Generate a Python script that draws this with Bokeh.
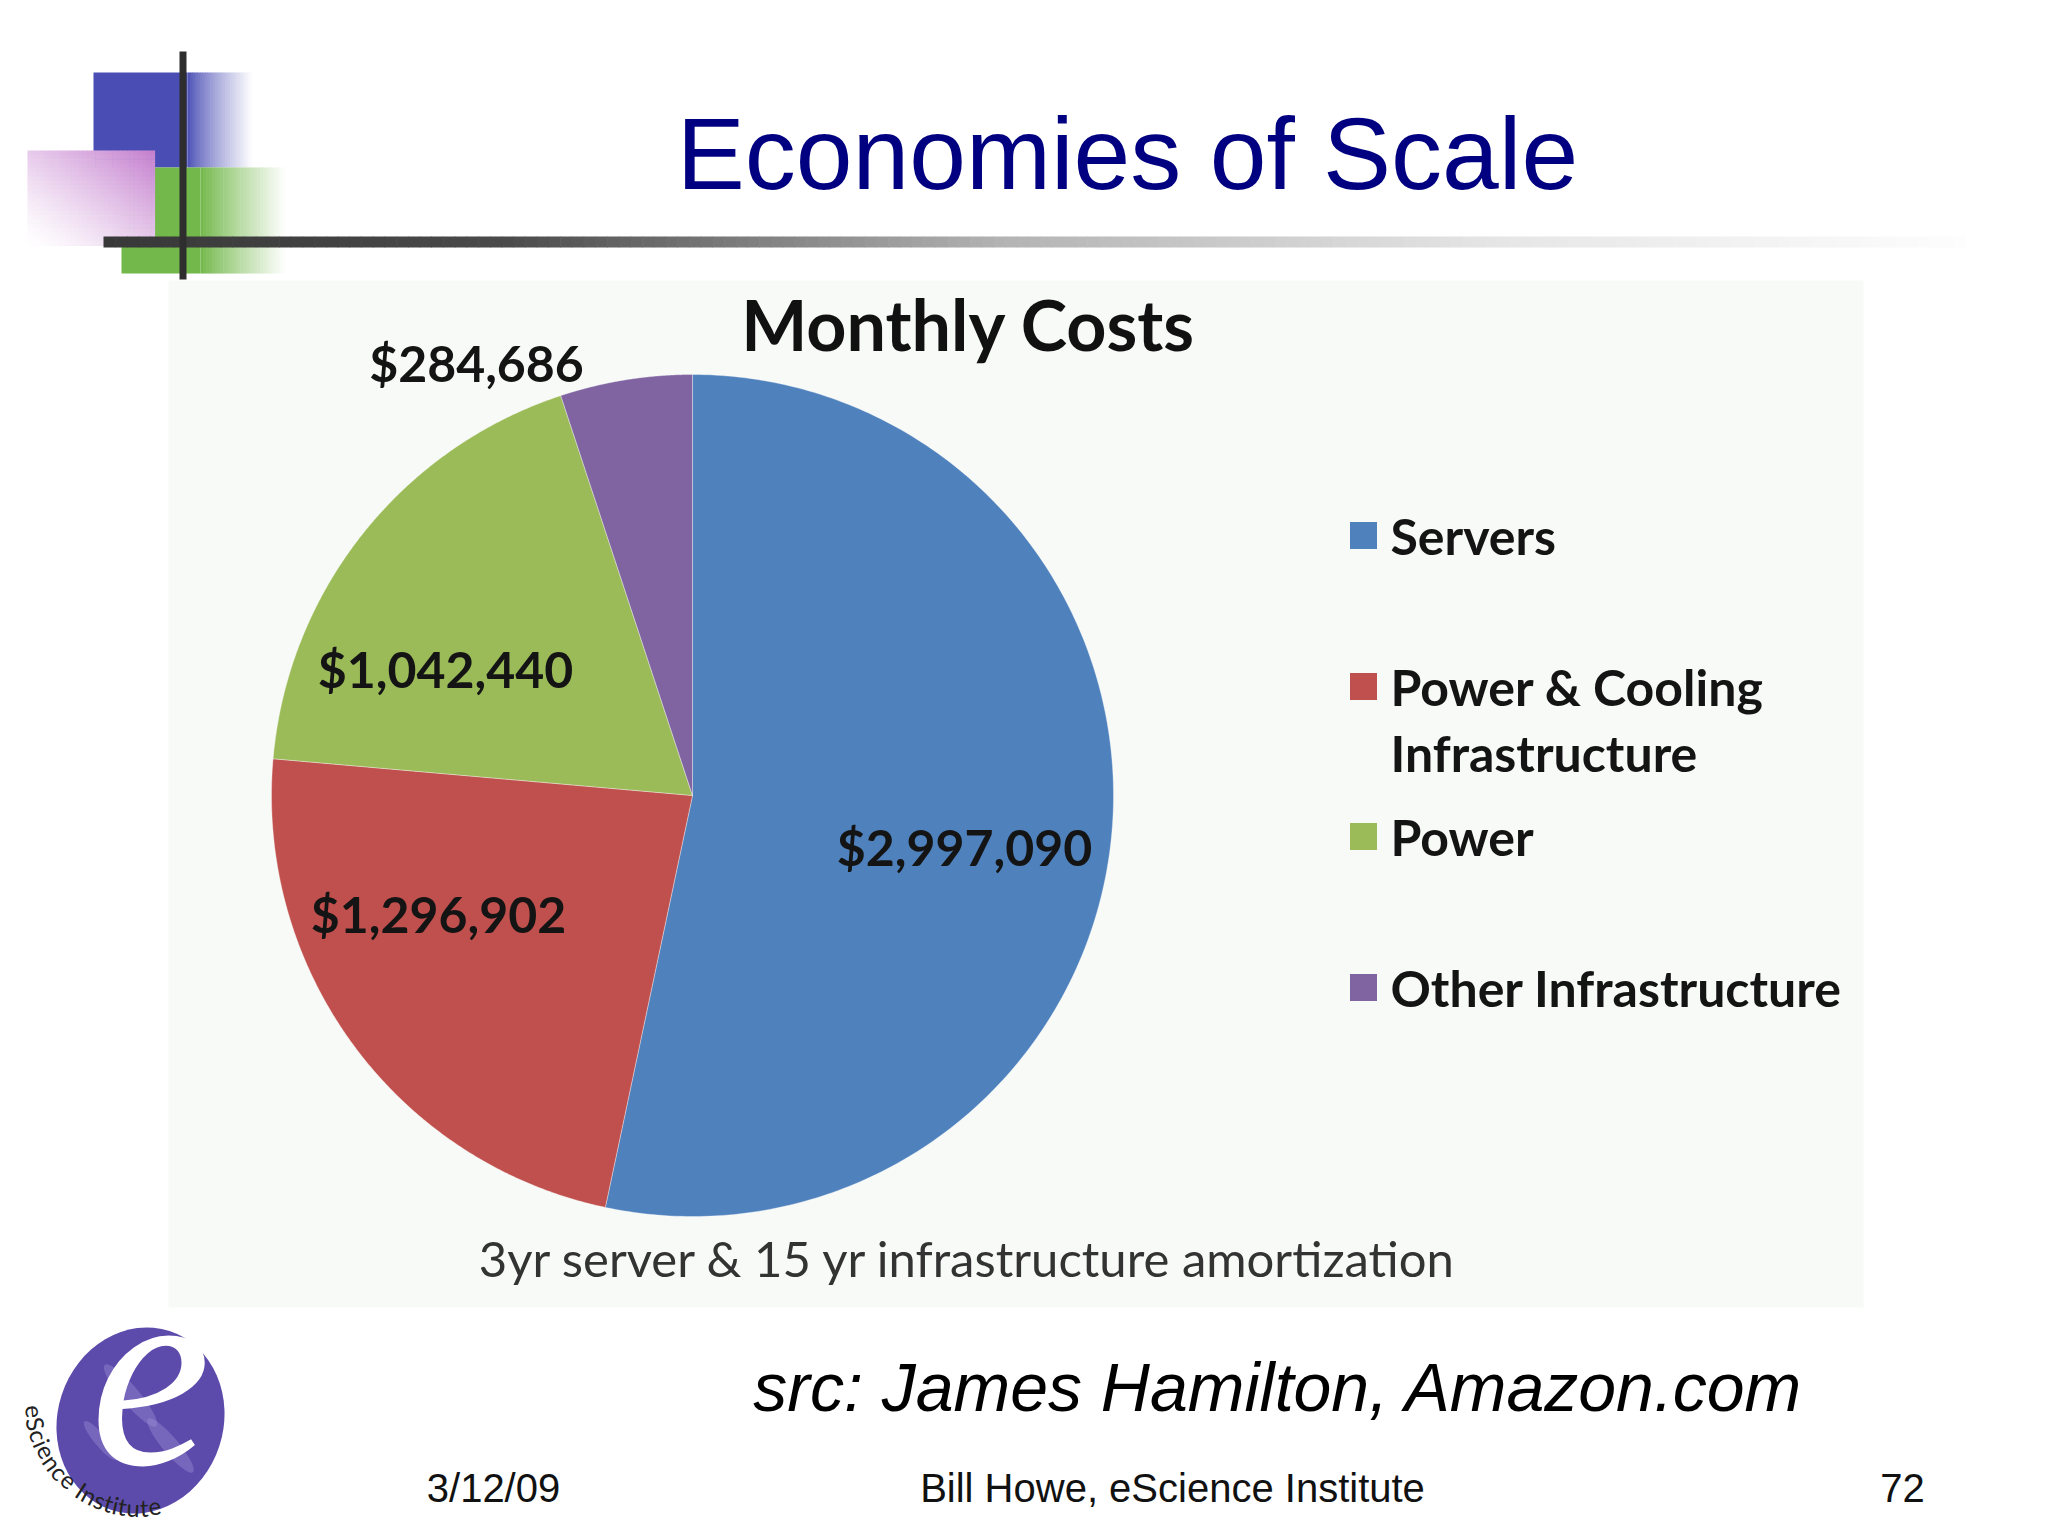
import numpy as np
from bokeh.plotting import figure
from bokeh.models import Range1d
from bokeh.embed import file_html
from bokeh.resources import INLINE
from bokeh.core.properties import value

# ---------------- data ----------------
slide_title = "Economies of Scale"
chart_title = "Monthly Costs"
categories = ["Servers", "Power & Cooling Infrastructure", "Power", "Other Infrastructure"]
legend_lines = [["Servers"], ["Power & Cooling", "Infrastructure"], ["Power"], ["Other Infrastructure"]]
monthly_costs = [2997090, 1296902, 1042440, 284686]
slice_colors = ["#4f81bd", "#c0504d", "#9bbb59", "#8064a2"]
footnote = "3yr server & 15 yr infrastructure amortization"
source_note = "src: James Hamilton, Amazon.com"
footer_date = "3/12/09"
footer_author = "Bill Howe, eScience Institute"
footer_page = "72"
logo_text = "eScience Institute"

# ---------------- layout ----------------
W, H = 2032, 1536
p = figure(width=W, height=H, x_range=Range1d(0, W), y_range=Range1d(H, 0),
           output_backend="svg", toolbar_location=None,
           x_axis_location=None, y_axis_location=None, min_border=0)
p.grid.visible = False
p.outline_line_color = None
p.background_fill_color = "white"
p.border_fill_color = "white"

BASE_SHIFT = 0.375  # empirical: rendered baseline sits this many em below the anchor


def by(baseline, size):
    return baseline - BASE_SHIFT * size


def hex2rgb(h):
    h = h.lstrip("#")
    return tuple(int(h[i:i + 2], 16) for i in (0, 2, 4))


def mix(c1, c2, t):
    a, b = hex2rgb(c1), hex2rgb(c2)
    t = min(max(t, 0.0), 1.0)
    return "#%02x%02x%02x" % tuple(int(round(a[i] + (b[i] - a[i]) * t)) for i in range(3))


def fade_strips(x0, x1, y0, y1, c, n=30, power=1.0):
    xs = np.linspace(x0, x1, n + 1)
    cols = [mix(c, "#ffffff", ((i + 0.5) / n) ** power) for i in range(n)]
    p.quad(left=xs[:-1], right=xs[1:] + 0.6, top=[y0] * n, bottom=[y1] * n,
           fill_color=cols, line_color=None)


# ---- top-left decoration ----
BLUE = "#4a4eb4"
GREEN = "#72b84a"
p.quad(left=[93], right=[187], top=[72], bottom=[167], fill_color=BLUE, line_color=None)
fade_strips(187, 252, 72, 167, BLUE, n=26, power=0.8)
p.quad(left=[121], right=[200], top=[167], bottom=[273], fill_color=GREEN, line_color=None)
fade_strips(200, 285, 167, 273, GREEN, n=30, power=0.9)

nx, ny = 30, 22
gx = np.linspace(27, 154, nx + 1)
gy = np.linspace(150, 245, ny + 1)
L, R_, T, B, C = [], [], [], [], []
for i in range(nx):
    for j in range(ny):
        u = (i + 0.5) / nx
        v = 1 - (j + 0.5) / ny
        t = (u + v) / 2
        L.append(gx[i]); R_.append(gx[i + 1] + 0.6)
        T.append(gy[j]); B.append(gy[j + 1] + 0.6)
        C.append(mix("#ffffff", "#c47fce", t ** 1.3))
p.quad(left=L, right=R_, top=T, bottom=B, fill_color=C, line_color=None)

stops_x = [103, 500, 1000, 1500, 1965]
stops_c = ["#383838", "#4a4a4a", "#b3b3b3", "#e6e6e6", "#fdfdfd"]
hx = np.linspace(103, 1965, 160)
hcols = []
for k in range(len(hx) - 1):
    xm = (hx[k] + hx[k + 1]) / 2
    for s in range(len(stops_x) - 1):
        if stops_x[s] <= xm <= stops_x[s + 1]:
            t = (xm - stops_x[s]) / (stops_x[s + 1] - stops_x[s])
            hcols.append(mix(stops_c[s], stops_c[s + 1], t))
            break
p.quad(left=hx[:-1], right=hx[1:] + 0.6, top=[236] * len(hcols), bottom=[247] * len(hcols),
       fill_color=hcols, line_color=None)
p.quad(left=[179], right=[186], top=[51], bottom=[279], fill_color="#2e2e2e", line_color=None)

# ---- slide title ----
p.text(x=[1127], y=[by(192, 102)], text=[slide_title], text_font=value("Liberation Sans"),
       text_font_size=value("102px"), text_color="#000080", text_align="center",
       text_baseline="alphabetic")

# ---- chart panel ----
p.quad(left=[168], right=[1863], top=[280], bottom=[1307], fill_color="#f8faf7", line_color=None)

p.text(x=[968], y=[by(350, 70)], text=[chart_title], text_font=value("Lato"),
       text_font_style="bold", text_font_size=value("70px"), text_color="#111111",
       text_align="center", text_baseline="alphabetic")

# pie (clockwise from 12 o'clock)
cx, cy, RAD = 692, 795, 421
total = float(sum(monthly_costs))
fr = np.cumsum([0] + monthly_costs) / total
xs_list, ys_list = [], []
for i in range(len(monthly_costs)):
    th = np.linspace(fr[i], fr[i + 1], 240) * 2 * np.pi
    xs_list.append(np.concatenate([[cx], cx + RAD * np.sin(th)]))
    ys_list.append(np.concatenate([[cy], cy - RAD * np.cos(th)]))
p.patches(xs_list, ys_list, fill_color=slice_colors, line_color="#ffffff", line_alpha=0.35,
          line_width=1)

# data labels
LFS = 50
label_xy = [(964, 865), (438, 932), (445, 687), (476, 381)]
label_text = ["${:,}".format(v) for v in monthly_costs]
p.text(x=[q[0] for q in label_xy], y=[by(q[1], LFS) for q in label_xy], text=label_text,
       text_font=value("Lato"), text_font_style="bold", text_font_size=value("%dpx" % LFS),
       text_color="#141414", text_align="center", text_baseline="alphabetic")

# legend
sq_y = [535, 686, 836, 987]
p.rect(x=[1363] * 4, y=sq_y, width=27, height=27, fill_color=slice_colors, line_color=None)
leg_base = [[554], [705, 771], [855], [1006]]
lx, ly, lt = [], [], []
for lines, bases in zip(legend_lines, leg_base):
    for s, b in zip(lines, bases):
        lx.append(1390); ly.append(by(b, LFS)); lt.append(s)
p.text(x=lx, y=ly, text=lt, text_font=value("Lato"), text_font_style="bold",
       text_font_size=value("%dpx" % LFS), text_color="#141414", text_align="left",
       text_baseline="alphabetic")

# footnote
p.text(x=[968], y=[by(1276, 49)], text=[footnote], text_font=value("Lato"),
       text_font_size=value("49px"), text_color="#333333", text_align="center",
       text_baseline="alphabetic")

# ---- source + footer ----
p.text(x=[1278], y=[by(1412, 68)], text=[source_note], text_font=value("Liberation Sans"),
       text_font_style="italic", text_font_size=value("68px"), text_color="#000000",
       text_align="center", text_baseline="alphabetic")
p.text(x=[493, 1172, 1902], y=[by(1502, 40)] * 3, text=[footer_date, footer_author, footer_page],
       text_font=value("Liberation Sans"), text_font_size=value("40px"), text_color="#111111",
       text_align="center", text_baseline="alphabetic")

# ---- logo ----
lcx, lcy = 140, 1420
p.ellipse(x=[lcx], y=[lcy], width=[188], height=[166], angle=[np.deg2rad(72)],
          fill_color="#5c4bab", line_color=None)
p.ellipse(x=[lcx - 10, lcx + 30, lcx - 40], y=[lcy - 25, lcy + 25, lcy + 20],
          width=[80, 70, 50], height=[18, 16, 12],
          angle=[np.deg2rad(-50)] * 3, fill_color="#a79cdd", fill_alpha=0.35, line_color=None)
p.text(x=[150], y=[by(1476, 272)], text=["e"], text_font=value("Liberation Serif"),
       text_font_style="italic", text_font_size=value("272px"), text_color="#ffffff",
       text_align="center", text_baseline="alphabetic")

widths = {"e": .52, "S": .52, "c": .47, "i": .24, "n": .55, " ": .26, "I": .28, "s": .41,
          "t": .35, "u": .55}
fs = 24
occ, ocy = 139, 1401
Ra = 106
phi0 = np.deg2rad(178)
s = 0.0
cxs, cys, cts, cang = [], [], [], []
for ch in logo_text:
    w = widths.get(ch, .5) * fs
    sc = s + w / 2
    phi = phi0 - sc / Ra
    cxs.append(occ + Ra * np.cos(phi))
    cys.append(ocy + Ra * np.sin(phi))
    cts.append(ch)
    cang.append(np.pi / 2 - phi)
    s += w
p.text(x=cxs, y=cys, text=cts, angle=cang, text_font=value("Lato"),
       text_font_size=value("%dpx" % fs), text_color="#222222", text_align="center",
       text_baseline="alphabetic")

open("out.html", "w").write(file_html(p, INLINE))
